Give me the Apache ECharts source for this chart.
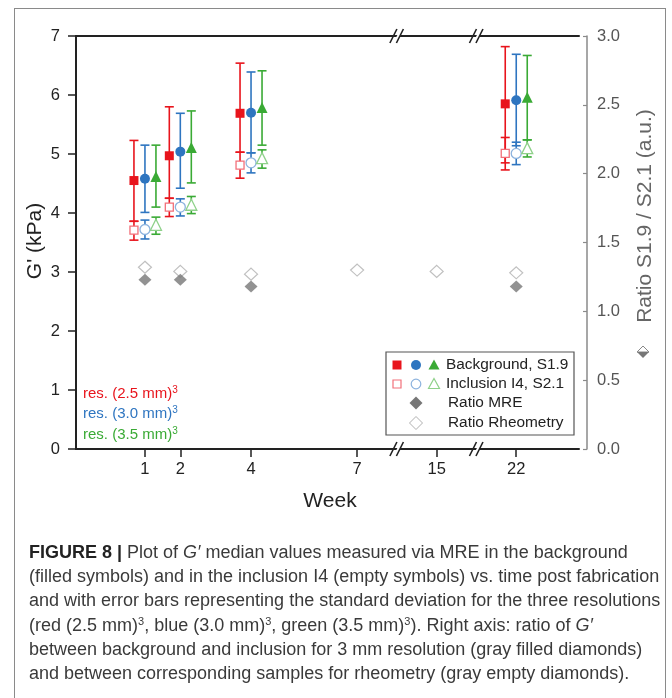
<!DOCTYPE html>
<html><head><meta charset="utf-8">
<script src="https://cdn.jsdelivr.net/npm/echarts@6.0.0/dist/echarts.min.js"></script>
<style>
html,body{margin:0;padding:0;background:#fff;}
#wrap{position:relative;width:672px;height:698px;overflow:hidden;}
#chart{position:absolute;left:0;top:0;width:672px;height:698px;}
#frame{position:absolute;left:14px;top:8px;width:652px;height:730px;border:1.5px solid #8a8a8a;box-sizing:border-box;pointer-events:none;}
#caption{position:absolute;left:29px;top:540px;font-family:"Liberation Sans",Arial,sans-serif;font-size:18px;line-height:24.2px;color:#3a3a3a;white-space:nowrap;letter-spacing:0px;}
#caption sup{font-size:11px;line-height:0;vertical-align:6px;}
#caption b{color:#222;}
</style></head>
<body>
<div id="wrap">
<div id="chart"></div>
<div id="frame"></div>
<div id="caption"><b>FIGURE 8 |</b> Plot of <i>G′</i> median values measured via MRE in the background<br>(filled symbols) and in the inclusion I4 (empty symbols) vs. time post fabrication<br>and with error bars representing the standard deviation for the three resolutions<br>(red (2.5 mm)<sup>3</sup>, blue (3.0 mm)<sup>3</sup>, green (3.5 mm)<sup>3</sup>). Right axis: ratio of <i>G′</i><br>between background and inclusion for 3 mm resolution (gray filled diamonds)<br>and between corresponding samples for rheometry (gray empty diamonds).</div>
</div>
<script>
// ---- data ----
const weekLabels = ['1', '2', '4', '7', '15', '22'];
const weekAxisPos = [1, 2, 4, 7, 9.25, 11.5];   // place of each week on the broken axis
const mreWeeks = ['1', '2', '4', '22'];
// G' (kPa): [median, low, high]
const bgRed   = [[4.55, 3.86, 5.23], [4.97, 4.25, 5.80], [5.69, 5.03, 6.54], [5.85, 4.85, 6.82]];
const bgBlue  = [[4.58, 4.01, 5.15], [5.04, 4.42, 5.69], [5.70, 5.02, 6.39], [5.91, 5.14, 6.69]];
const bgGreen = [[4.62, 4.10, 5.15], [5.11, 4.51, 5.73], [5.79, 5.15, 6.41], [5.96, 5.24, 6.67]];
const inRed   = [[3.71, 3.54, 3.86], [4.10, 3.94, 4.25], [4.81, 4.59, 5.03], [5.01, 4.73, 5.28]];
const inBlue  = [[3.72, 3.56, 3.88], [4.10, 3.95, 4.24], [4.85, 4.68, 5.02], [5.01, 4.82, 5.20]];
const inGreen = [[3.80, 3.64, 3.93], [4.14, 3.99, 4.28], [4.93, 4.76, 5.07], [5.10, 4.95, 5.24]];
// ratios (right axis)
const ratioMRE = [1.23, 1.23, 1.18, 1.18];                  // weeks 1,2,4,22
const ratioRheo = [1.32, 1.29, 1.27, 1.30, 1.29, 1.28];     // all weeks
const leftTicks = [0, 1, 2, 3, 4, 5, 6, 7];
const rightTicks = [0, 0.5, 1, 1.5, 2, 2.5, 3];

const RED = '#e8141c', BLUE = '#2e75c0', GREEN = '#3aaa35';
const RED_L = '#f2707a', BLUE_L = '#8db3de', GREEN_L = '#8fd18a';
const GRAY = '#777777', GRAY_L = '#b0b0b0';
const FONT = '"Liberation Sans", Arial, sans-serif';

function posOf(w) { return weekAxisPos[weekLabels.indexOf(w)]; }

function errSeries(vals, color, dx) {
  return {
    type: 'custom', silent: true, z: 2, clip: false,
    data: vals.map((v, i) => [posOf(mreWeeks[i]), v[1], v[2]]),
    encode: { x: 0, y: [1, 2] },
    renderItem: function (params, api) {
      const lo = api.coord([api.value(0), api.value(1)]);
      const hi = api.coord([api.value(0), api.value(2)]);
      const px = lo[0] + dx, cw = 4.5;
      const st = { stroke: color, lineWidth: 1.6 };
      return { type: 'group', children: [
        { type: 'line', shape: { x1: px, y1: lo[1], x2: px, y2: hi[1] }, style: st },
        { type: 'line', shape: { x1: px - cw, y1: lo[1], x2: px + cw, y2: lo[1] }, style: st },
        { type: 'line', shape: { x1: px - cw, y1: hi[1], x2: px + cw, y2: hi[1] }, style: st }
      ]};
    }
  };
}
function ptSeries(vals, symbol, size, dx, fill, stroke) {
  return {
    type: 'scatter', silent: true, z: 3, symbol: symbol, symbolSize: size,
    symbolOffset: [dx, 0],
    data: vals.map((v, i) => [posOf(mreWeeks[i]), v[0]]),
    itemStyle: { color: fill, borderColor: stroke, borderWidth: stroke ? 1.3 : 0, opacity: 1 }
  };
}

const breakPos = [(weekAxisPos[3] + weekAxisPos[4]) / 2, (weekAxisPos[4] + weekAxisPos[5]) / 2];

const chart = echarts.init(document.getElementById('chart'), null, { renderer: 'canvas' });

const graphics = [
  // axis titles
  { type: 'text', x: 35, y: 241, rotation: Math.PI / 2, style: { text: "G' (kPa)", font: '21px ' + FONT, fill: '#222', align: 'center', verticalAlign: 'middle', textAlign: 'center', textVerticalAlign: 'middle' } },
  { type: 'text', x: 645, y: 216, rotation: Math.PI / 2, style: { text: 'Ratio S1.9 / S2.1 (a.u.)', font: '21px ' + FONT, fill: '#666', align: 'center', verticalAlign: 'middle', textAlign: 'center', textVerticalAlign: 'middle' } },
  { type: 'text', x: 330, y: 501, style: { text: 'Week', font: '21px ' + FONT, fill: '#222', align: 'center', verticalAlign: 'middle', textAlign: 'center', textVerticalAlign: 'middle' } },
  // half diamond marker by right title
  { type: 'polygon', shape: { points: [[637, 352], [643, 346], [649, 352]] }, style: { fill: '#fff', stroke: '#888', lineWidth: 1 } },
  { type: 'polygon', shape: { points: [[637, 352], [643, 358], [649, 352]] }, style: { fill: GRAY } },
  // resolution notes
  { type: 'text', x: 83, y: 394, style: { text: '{a|res. (2.5 mm)}{s|3}', verticalAlign: 'middle', textVerticalAlign: 'middle', rich: { a: { fontSize: 15, fontFamily: FONT, fill: RED, color: RED, lineHeight: 18 }, s: { fontSize: 10, fontFamily: FONT, fill: RED, color: RED, verticalAlign: 'top', lineHeight: 18 } } } },
  { type: 'text', x: 83, y: 414, style: { text: '{a|res. (3.0 mm)}{s|3}', verticalAlign: 'middle', textVerticalAlign: 'middle', rich: { a: { fontSize: 15, fontFamily: FONT, fill: BLUE, color: BLUE, lineHeight: 18 }, s: { fontSize: 10, fontFamily: FONT, fill: BLUE, color: BLUE, verticalAlign: 'top', lineHeight: 18 } } } },
  { type: 'text', x: 83, y: 435, style: { text: '{a|res. (3.5 mm)}{s|3}', verticalAlign: 'middle', textVerticalAlign: 'middle', rich: { a: { fontSize: 15, fontFamily: FONT, fill: GREEN, color: GREEN, lineHeight: 18 }, s: { fontSize: 10, fontFamily: FONT, fill: GREEN, color: GREEN, verticalAlign: 'top', lineHeight: 18 } } } },
  // legend box
  { type: 'rect', z: 10, shape: { x: 386, y: 352, width: 188, height: 83 }, style: { fill: '#fff', stroke: '#555', lineWidth: 1.2 } },
  { type: 'rect', z: 11, shape: { x: 392.5, y: 360.5, width: 9, height: 9 }, style: { fill: RED } },
  { type: 'circle', z: 11, shape: { cx: 416, cy: 365, r: 5 }, style: { fill: BLUE } },
  { type: 'polygon', z: 11, shape: { points: [[434, 359.5], [439.5, 369.5], [428.5, 369.5]] }, style: { fill: GREEN } },
  { type: 'rect', z: 11, shape: { x: 393, y: 380, width: 8, height: 8 }, style: { fill: '#fff', stroke: RED_L, lineWidth: 1.2 } },
  { type: 'circle', z: 11, shape: { cx: 416, cy: 384, r: 4.8 }, style: { fill: '#fff', stroke: BLUE_L, lineWidth: 1.2 } },
  { type: 'polygon', z: 11, shape: { points: [[434, 378.5], [439.5, 388.5], [428.5, 388.5]] }, style: { fill: '#fff', stroke: GREEN_L, lineWidth: 1.2 } },
  { type: 'polygon', z: 11, shape: { points: [[416, 396.5], [422.5, 403], [416, 409.5], [409.5, 403]] }, style: { fill: GRAY } },
  { type: 'polygon', z: 11, shape: { points: [[416, 416.5], [422.5, 423], [416, 429.5], [409.5, 423]] }, style: { fill: '#fff', stroke: GRAY_L, lineWidth: 1 } },
  { type: 'text', z: 11, x: 446, y: 365, style: { text: 'Background, S1.9', font: '15.4px ' + FONT, fill: '#222', verticalAlign: 'middle', textVerticalAlign: 'middle' } },
  { type: 'text', z: 11, x: 446, y: 384, style: { text: 'Inclusion I4, S2.1', font: '15.4px ' + FONT, fill: '#222', verticalAlign: 'middle', textVerticalAlign: 'middle' } },
  { type: 'text', z: 11, x: 448, y: 403, style: { text: 'Ratio MRE', font: '15.4px ' + FONT, fill: '#222', verticalAlign: 'middle', textVerticalAlign: 'middle' } },
  { type: 'text', z: 11, x: 448, y: 423, style: { text: 'Ratio Rheometry', font: '15.4px ' + FONT, fill: '#222', verticalAlign: 'middle', textVerticalAlign: 'middle' } }
];

const option = {
  animation: false,
  backgroundColor: '#fff',
  textStyle: { fontFamily: FONT },
  grid: { left: 76, right: 93, top: 36, bottom: 249, containLabel: false },
  xAxis: [
    { type: 'value', position: 'bottom', min: -0.95, max: 13.275,
      axisLine: { show: true, onZero: false, lineStyle: { color: '#222', width: 2 } },
      axisTick: { show: true, customValues: weekAxisPos, length: 8, lineStyle: { color: '#222', width: 1.5 } },
      axisLabel: { show: true, customValues: weekAxisPos, margin: 12, fontSize: 16.5, color: '#222', fontFamily: FONT,
        formatter: v => weekLabels[weekAxisPos.indexOf(v)] },
      splitLine: { show: false } },
    { type: 'value', position: 'top', min: -0.95, max: 13.275,
      axisLine: { show: true, onZero: false, lineStyle: { color: '#222', width: 2 } },
      axisTick: { show: false }, axisLabel: { show: false }, splitLine: { show: false } }
  ],
  yAxis: [
    { type: 'value', position: 'left', min: leftTicks[0], max: leftTicks[leftTicks.length - 1], interval: 1,
      axisLine: { show: true, onZero: false, lineStyle: { color: '#222', width: 2 } },
      axisTick: { show: true, length: 8, lineStyle: { color: '#222', width: 1.5 } },
      axisLabel: { margin: 16, fontSize: 16.5, color: '#222', fontFamily: FONT },
      splitLine: { show: false } },
    { type: 'value', position: 'right', offset: 8, min: rightTicks[0], max: rightTicks[rightTicks.length - 1], interval: 0.5,
      axisLine: { show: true, onZero: false, lineStyle: { color: '#8a8a8a', width: 1.5 } },
      axisTick: { show: true, inside: true, length: 4, lineStyle: { color: '#8a8a8a', width: 1.2 } },
      axisLabel: { margin: 10, fontSize: 16.5, color: '#555', fontFamily: FONT, formatter: v => v.toFixed(1) },
      splitLine: { show: false } }
  ],
  graphic: graphics,
  series: [
    errSeries(bgRed, RED, -11), errSeries(bgBlue, BLUE, 0), errSeries(bgGreen, GREEN, 11),
    errSeries(inRed, RED, -11), errSeries(inBlue, BLUE, 0), errSeries(inGreen, GREEN, 11),
    ptSeries(bgRed, 'rect', 9, -11, RED, null),
    ptSeries(bgBlue, 'circle', 10, 0, BLUE, null),
    ptSeries(bgGreen, 'triangle', 11, 11, GREEN, null),
    ptSeries(inRed, 'rect', 8, -11, '#fff', RED_L),
    ptSeries(inBlue, 'circle', 10, 0, '#fff', BLUE_L),
    ptSeries(inGreen, 'triangle', 11, 11, '#fff', GREEN_L),
    { type: 'scatter', yAxisIndex: 1, silent: true, z: 3, symbol: 'diamond', symbolSize: [13, 12],
      data: ratioRheo.map((v, i) => [weekAxisPos[i], v]),
      itemStyle: { color: '#fff', borderColor: GRAY_L, borderWidth: 1.2 } },
    { type: 'scatter', yAxisIndex: 1, silent: true, z: 3, symbol: 'diamond', symbolSize: [13, 12],
      data: ratioMRE.map((v, i) => [posOf(mreWeeks[i]), v]),
      itemStyle: { color: GRAY } },
    // axis breaks
    { type: 'custom', silent: true, z: 20, clip: false,
      data: breakPos.map(p => [p]),
      encode: { x: 0 },
      renderItem: function (params, api) {
        const yVals = [leftTicks[0], leftTicks[leftTicks.length - 1]];
        const kids = [];
        yVals.forEach(yv => {
          const c = api.coord([api.value(0), yv]);
          const x = c[0], y = c[1];
          kids.push({ type: 'polygon', shape: { points: [[x - 3.5, y + 7], [x + 3.5, y - 7], [x + 6.5, y - 7], [x - 0.5, y + 7]] }, style: { fill: '#fff' } });
          kids.push({ type: 'line', shape: { x1: x - 7, y1: y + 7, x2: x + 0, y2: y - 7 }, style: { stroke: '#222', lineWidth: 1.6 } });
          kids.push({ type: 'line', shape: { x1: x - 0.5, y1: y + 7, x2: x + 6.5, y2: y - 7 }, style: { stroke: '#222', lineWidth: 1.6 } });
        });
        return { type: 'group', children: kids };
      } }
  ]
};
chart.setOption(option);
</script>
</body></html>
